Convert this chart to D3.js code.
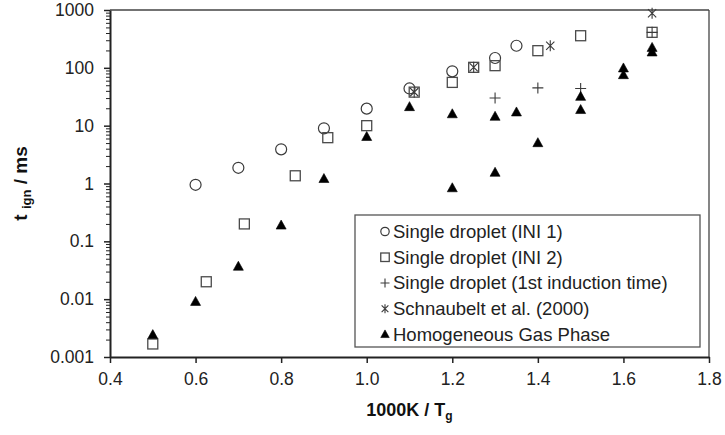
<!DOCTYPE html>
<html>
<head>
<meta charset="utf-8">
<script src="https://cdn.jsdelivr.net/npm/d3@7"></script>
<style>
  html, body { margin: 0; padding: 0; background: #fff; }
  svg { display: block; font-family: "Liberation Sans", Arial, sans-serif; }
</style>
</head>
<body>
<svg id="chart" width="725" height="435"></svg>
<script>
// ---- data (x = 1000K/Tg, y = t_ign in ms) ----
const ini1X = [0.6, 0.7, 0.8, 0.9, 1.0, 1.1, 1.2, 1.3, 1.35];
const ini1Y = [0.95, 1.87, 3.9, 9.0, 19.7, 44, 87, 148, 241];

const ini2X = [0.5, 0.625, 0.714, 0.833, 0.909, 1.0, 1.111, 1.2, 1.25, 1.3, 1.4, 1.5, 1.667];
const ini2Y = [0.00168, 0.02, 0.2, 1.36, 6.2, 10, 38, 56, 102, 109, 198, 359, 411];

const firstIndX = [1.3, 1.4, 1.5, 1.667];
const firstIndY = [30, 45, 44, 411];

const schnX = [1.111, 1.25, 1.429, 1.667];
const schnY = [38, 102, 241, 877];

const homX = [0.5, 0.6, 0.7, 0.8, 0.9, 1.0, 1.1, 1.2, 1.2, 1.3, 1.3, 1.35, 1.4, 1.5, 1.5, 1.6, 1.6, 1.667, 1.667];
const homY = [0.0024, 0.009, 0.0365, 0.188, 1.2, 6.4, 21, 15.8, 0.83, 14.3, 1.54, 17, 5.0, 31.6, 18.7, 98, 75, 222, 185];

const xTicks = [0.4, 0.6, 0.8, 1.0, 1.2, 1.4, 1.6, 1.8];
const yTicks = [0.001, 0.01, 0.1, 1, 10, 100, 1000];
const yTickLabels = ["0.001", "0.01", "0.1", "1", "10", "100", "1000"];

const legendLabels = [
  "Single droplet (INI 1)",
  "Single droplet (INI 2)",
  "Single droplet (1st induction time)",
  "Schnaubelt et al. (2000)",
  "Homogeneous Gas Phase"
];

// ---- layout ----
const svg = d3.select("#chart");
const L = 110, R = 709, T = 10, B = 357;
const x = d3.scaleLinear().domain([0.4, 1.8]).range([L, R]);
const y = d3.scaleLog().domain([0.001, 1000]).range([B, T]);

const ink = "#222";
const mk = "#3a3a3a";

// plot frame (top & right)
svg.append("line").attr("x1", L).attr("x2", R).attr("y1", T).attr("y2", T)
  .attr("stroke", "#444").attr("stroke-width", 1.3);
svg.append("line").attr("x1", R).attr("x2", R).attr("y1", T).attr("y2", B)
  .attr("stroke", "#444").attr("stroke-width", 1.3);

// minor y ticks
const minor = [];
for (let e = -3; e < 3; e++) for (let m = 2; m <= 9; m++) minor.push(m * Math.pow(10, e));
const gMinor = svg.append("g").attr("transform", `translate(${L},0)`)
  .call(d3.axisLeft(y).tickValues(minor).tickSize(4).tickSizeOuter(0).tickFormat(""));
gMinor.select(".domain").remove();
gMinor.selectAll("line").attr("stroke", ink).attr("stroke-width", 1);

// y axis
const gy = svg.append("g").attr("transform", `translate(${L},0)`)
  .call(d3.axisLeft(y).tickValues(yTicks).tickSize(6).tickSizeOuter(0)
    .tickPadding(10).tickFormat((d, i) => yTickLabels[i]));
gy.select(".domain").attr("stroke", ink).attr("stroke-width", 2);
gy.selectAll("line").attr("stroke", ink).attr("stroke-width", 1.5);
gy.selectAll("text").attr("font-size", 17.5).attr("fill", "#222")
  .attr("font-family", "Liberation Sans, Arial, sans-serif");

// x axis
const gx = svg.append("g").attr("transform", `translate(0,${B})`)
  .call(d3.axisBottom(x).tickValues(xTicks).tickSize(6).tickSizeOuter(0)
    .tickPadding(10).tickFormat(d3.format(".1f")));
gx.select(".domain").attr("stroke", ink).attr("stroke-width", 2);
gx.selectAll("line").attr("stroke", ink).attr("stroke-width", 1.5);
gx.selectAll("text").attr("font-size", 17.5).attr("fill", "#222")
  .attr("font-family", "Liberation Sans, Arial, sans-serif");

// axis titles
const xt = svg.append("text").attr("x", (L + R) / 2).attr("y", 416)
  .attr("text-anchor", "middle").attr("font-size", 18).attr("font-weight", "bold").attr("fill", "#111");
xt.append("tspan").text("1000K / T");
xt.append("tspan").attr("font-size", 12).attr("dy", 4).text("g");

const yt = svg.append("text").attr("transform", `translate(27,${(T + B) / 2}) rotate(-90)`)
  .attr("text-anchor", "middle").attr("font-size", 19).attr("font-weight", "bold").attr("fill", "#111");
yt.append("tspan").text("t ");
yt.append("tspan").attr("font-size", 13).attr("dy", 4).text("ign");
yt.append("tspan").attr("dy", -4).text(" / ms");

// ---- marker drawers ----
function circle(g, cx, cy, r) {
  g.append("circle").attr("cx", cx).attr("cy", cy).attr("r", r)
    .attr("fill", "none").attr("stroke", mk).attr("stroke-width", 1.2);
}
function square(g, cx, cy, s) {
  g.append("rect").attr("x", cx - s / 2).attr("y", cy - s / 2).attr("width", s).attr("height", s)
    .attr("fill", "none").attr("stroke", "#4a4a4a").attr("stroke-width", 1.3);
}
function plus(g, cx, cy, h) {
  g.append("path").attr("d", `M${cx - h},${cy}H${cx + h}M${cx},${cy - h}V${cy + h}`)
    .attr("stroke", mk).attr("stroke-width", 1.1).attr("fill", "none");
}
function star(g, cx, cy, h) {
  const k = h * 0.75;
  g.append("path").attr("d",
    `M${cx - k},${cy - k}L${cx + k},${cy + k}M${cx + k},${cy - k}L${cx - k},${cy + k}M${cx},${cy - h}V${cy + h}`)
    .attr("stroke", mk).attr("stroke-width", 1.1).attr("fill", "none");
}
function tri(g, cx, cy, w) {
  const h = w * 0.9;
  g.append("path").attr("d", `M${cx},${cy - h * 0.6}L${cx + w / 2},${cy + h * 0.4}L${cx - w / 2},${cy + h * 0.4}Z`)
    .attr("fill", "#000").attr("stroke", "#000").attr("stroke-width", 0.6);
}

// ---- data marks ----
const gm = svg.append("g");
ini1X.forEach((d, i) => circle(gm, x(d), y(ini1Y[i]), 5.5));
ini2X.forEach((d, i) => square(gm, x(d), y(ini2Y[i]), 10));
firstIndX.forEach((d, i) => plus(gm, x(d), y(firstIndY[i]), 5.5));
schnX.forEach((d, i) => star(gm, x(d), y(schnY[i]), 5.5));
homX.forEach((d, i) => tri(gm, x(d), y(homY[i]), 10));

// ---- legend ----
const lg = svg.append("g");
lg.append("rect").attr("x", 355).attr("y", 215).attr("width", 345).attr("height", 132)
  .attr("fill", "#fff").attr("stroke", "#555").attr("stroke-width", 1.3);
const rowY = d3.scaleLinear().domain([0, 4]).range([231.5, 334.5]);
const drawers = [
  (g, cx, cy) => circle(g, cx, cy, 4.2),
  (g, cx, cy) => square(g, cx, cy, 8.5),
  (g, cx, cy) => plus(g, cx, cy, 4.5),
  (g, cx, cy) => star(g, cx, cy, 4.5),
  (g, cx, cy) => tri(g, cx, cy, 8.5)
];
legendLabels.forEach((lab, i) => {
  const cy = rowY(i);
  drawers[i](lg, 385, cy);
  lg.append("text").attr("x", 393).attr("y", cy).attr("dy", "0.35em")
    .attr("font-size", 18.5).attr("fill", "#222").text(lab);
});
</script>
</body>
</html>
